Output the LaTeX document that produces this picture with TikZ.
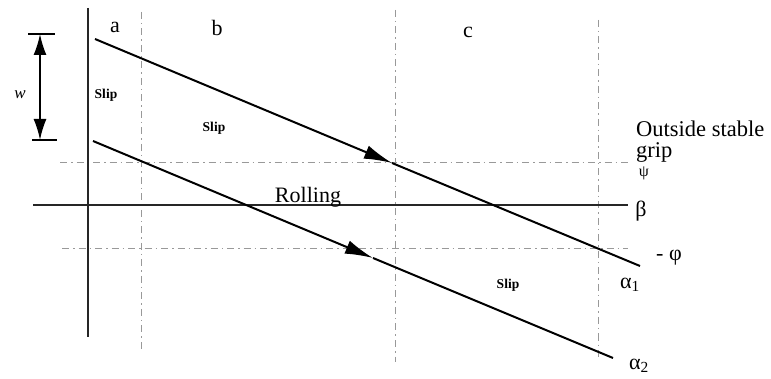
\documentclass[tikz,border=0pt]{standalone}
\usepackage{fontspec}
\setmainfont{Liberation Serif}
\usetikzlibrary{arrows.meta}
\begin{document}
\begin{tikzpicture}[x=1pt,y=-1pt,
  axis/.style={line width=1.9pt,black!85},
  grid/.style={line width=0.8pt,black!40,dash pattern=on 7pt off 4pt on 1.5pt off 4pt},
  ray/.style={line width=2pt,black},
  bigtip/.style={-{Latex[length=28pt,width=14pt]}},
  lbl/.style={inner sep=0pt,font=\fontsize{22}{24}\selectfont},
  slip/.style={inner sep=0pt,font=\fontsize{13.5}{15}\selectfont\bfseries}]
\useasboundingbox (0,0) rectangle (771,379);
% named points
\coordinate (vT) at (88,8);   \coordinate (vB) at (88,337);
\coordinate (d1T) at (141,12); \coordinate (d1B) at (141,352);
\coordinate (d2T) at (395,10); \coordinate (d2B) at (395,362);
\coordinate (d3T) at (598,20); \coordinate (d3B) at (598,360);
\coordinate (bL) at (33,205);  \coordinate (bR) at (628,205);
\coordinate (pL) at (60,162);  \coordinate (pR) at (628,162);
\coordinate (fL) at (62,248);  \coordinate (fR) at (628,248);
\coordinate (a1S) at (95,39);  \coordinate (a1M) at (392,163); \coordinate (a1E) at (640,266);
\coordinate (a2S) at (93,141); \coordinate (a2M) at (373,258); \coordinate (a2E) at (613,358);
\coordinate (wT) at (40,34);   \coordinate (wB) at (40,140);
\coordinate (wT1) at (28,34);  \coordinate (wT2) at (55,34);
\coordinate (wB1) at (32,140); \coordinate (wB2) at (57,140);
% grid
\draw[grid] (d1T) -- (d1B);
\draw[grid] (d2T) -- (d2B);
\draw[grid] (d3T) -- (d3B);
\draw[grid] (pL) -- (pR);
\draw[grid] (fL) -- (fR);
% axes
\draw[axis] (vT) -- (vB);
\draw[axis] (bL) -- (bR);
% rays
\draw[ray,bigtip] (a1S) -- (a1M);
\draw[ray] (a1M) -- (a1E);
\draw[ray,bigtip] (a2S) -- (a2M);
\draw[ray] (a2M) -- (a2E);
% dimension
\draw[line width=1.8pt] (wT1) -- (wT2);
\draw[line width=1.8pt] (wB1) -- (wB2);
\draw[line width=1.8pt,{Latex[length=21pt,width=13pt]}-{Latex[length=21pt,width=13pt]}] (wT) -- (wB);
% labels
\node[lbl] (la) at (115,27) {a};
\node[lbl] (lb) at (217,28) {b};
\node[lbl] (lc) at (468,32) {c};
\node[inner sep=0pt,font=\fontsize{17}{18}\selectfont\itshape] (lw) at (20,95) {w};
\node[slip] (s1) at (106,95) {Slip};
\node[slip] (s2) at (214,128) {Slip};
\node[slip] (s3) at (508,285) {Slip};
\node[lbl,anchor=base] (roll) at (308,203) {Rolling};
\node[inner sep=0pt,anchor=base west,font=\fontsize{22.5}{24}\selectfont] (out) at (636,137) {Outside stable};
\node[inner sep=0pt,anchor=base west,font=\fontsize{22.5}{24}\selectfont] (grip) at (636,158) {grip};
\node[inner sep=0pt,font=\fontsize{16}{17}\selectfont] (psi) at (644,173) {ψ};
\node[lbl] (beta) at (641,211) {β};
\node[lbl] (phi) at (669,258) {- φ};
\node[lbl] (a1) at (630,285) {α\textsubscript{1}};
\node[lbl] (a2) at (639,366) {α\textsubscript{2}};
\end{tikzpicture}
\end{document}
